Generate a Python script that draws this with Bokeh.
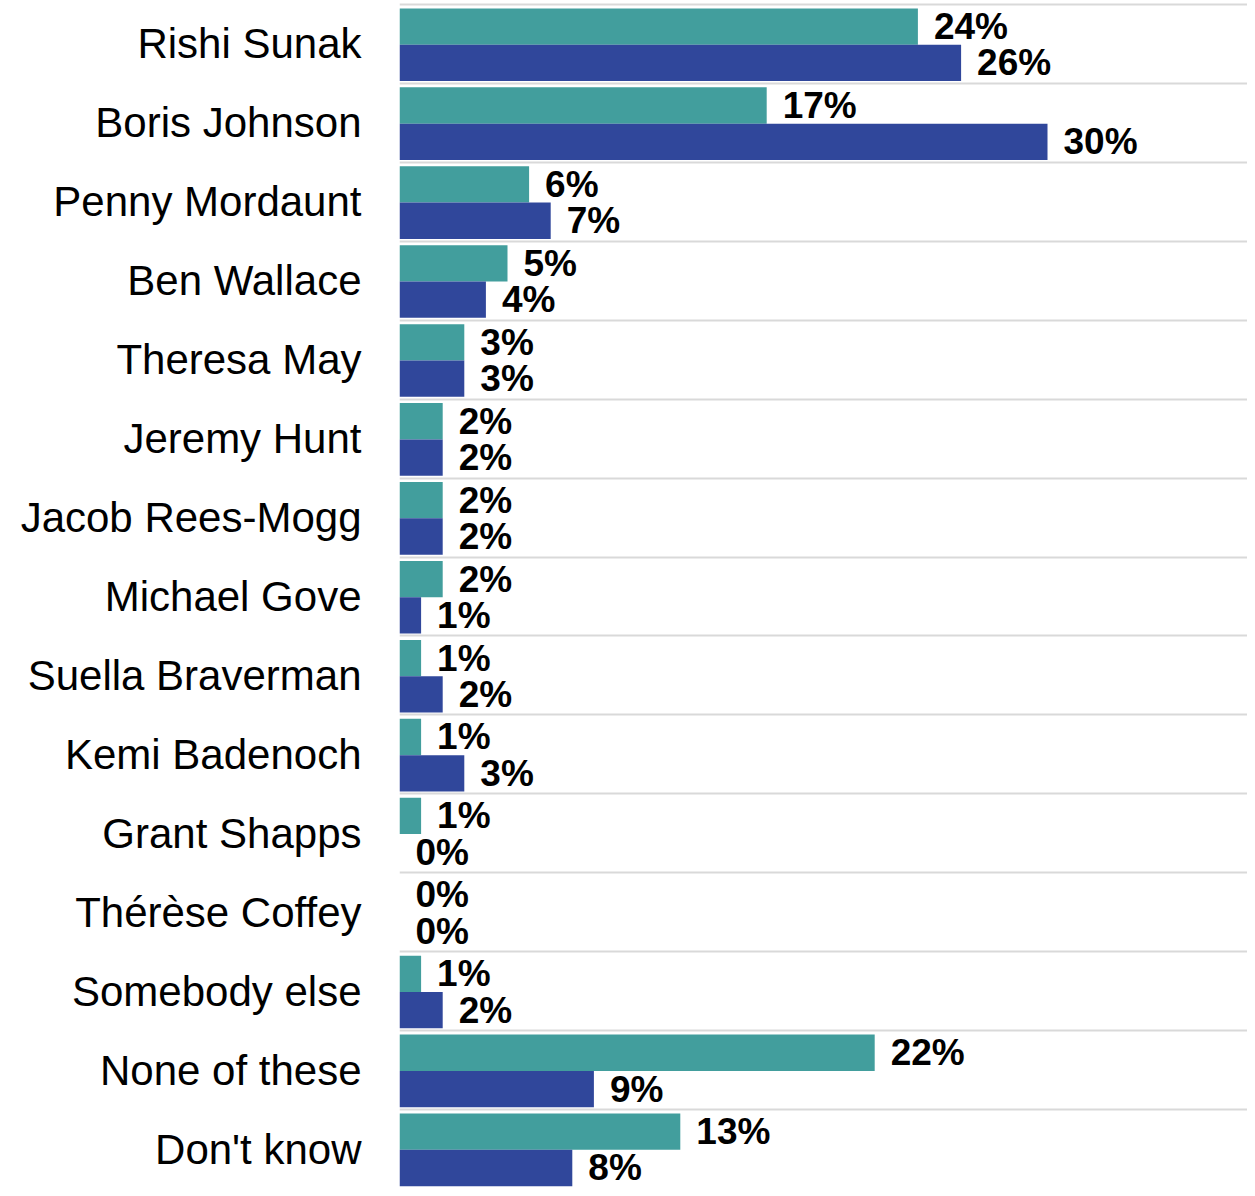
from bokeh.plotting import figure
from bokeh.models import Range1d, FixedTicker, ColumnDataSource
from bokeh.core.properties import value
from bokeh.embed import file_html
from bokeh.resources import INLINE

categories = ["Rishi Sunak", "Boris Johnson", "Penny Mordaunt", "Ben Wallace",
              "Theresa May", "Jeremy Hunt", "Jacob Rees-Mogg", "Michael Gove",
              "Suella Braverman", "Kemi Badenoch", "Grant Shapps", "Thérèse Coffey",
              "Somebody else", "None of these", "Don't know"]
series_a = [24, 17, 6, 5, 3, 2, 2, 2, 1, 1, 1, 0, 1, 22, 13]
series_b = [26, 30, 7, 4, 3, 2, 2, 1, 2, 3, 0, 0, 2, 9, 8]

TEAL = "#429e9d"
BLUE = "#30479b"
FONT = "Liberation Sans"

n = len(categories)
idx = list(range(n))

p = figure(width=1247, height=1188, output_backend="svg", toolbar_location=None,
           x_range=Range1d(0, 848 / 21.6), y_range=Range1d(n - 0.5, -0.525),
           min_border_left=399, min_border_right=0, min_border_top=2, min_border_bottom=0)
p.outline_line_color = None
p.xaxis.visible = False
p.xgrid.visible = False

src_a = ColumnDataSource(dict(y=[i - 0.22 for i in idx], v=series_a,
                              lab=[f"{v}%" for v in series_a]))
src_b = ColumnDataSource(dict(y=[i + 0.24 for i in idx], v=series_b,
                              lab=[f"{v}%" for v in series_b]))

p.hbar(y="y", right="v", left=0, height=0.46, source=src_a, fill_color=TEAL, line_color=None)
p.hbar(y="y", right="v", left=0, height=0.46, source=src_b, fill_color=BLUE, line_color=None)

for src in (src_a, src_b):
    p.text(x="v", y="y", text="lab", source=src, x_offset=16,
           text_font=value(FONT), text_font_style="bold", text_font_size="37px",
           text_baseline="middle", text_align="left", text_color="black")

p.ygrid.ticker = FixedTicker(ticks=[i - 0.5 for i in idx])
p.ygrid.grid_line_color = "#d9d9d9"
p.ygrid.grid_line_width = 2

ax = p.yaxis[0]
ax.ticker = FixedTicker(ticks=idx)
ax.major_label_overrides = {i: c for i, c in enumerate(categories)}
ax.major_tick_line_color = None
ax.minor_tick_line_color = None
ax.major_tick_out = 0
ax.major_tick_in = 0
ax.axis_line_color = None
ax.major_label_standoff = 38
ax.major_label_text_font = FONT
ax.major_label_text_font_size = "42px"
ax.major_label_text_color = "black"

open("out.html", "w").write(file_html(p, INLINE))
